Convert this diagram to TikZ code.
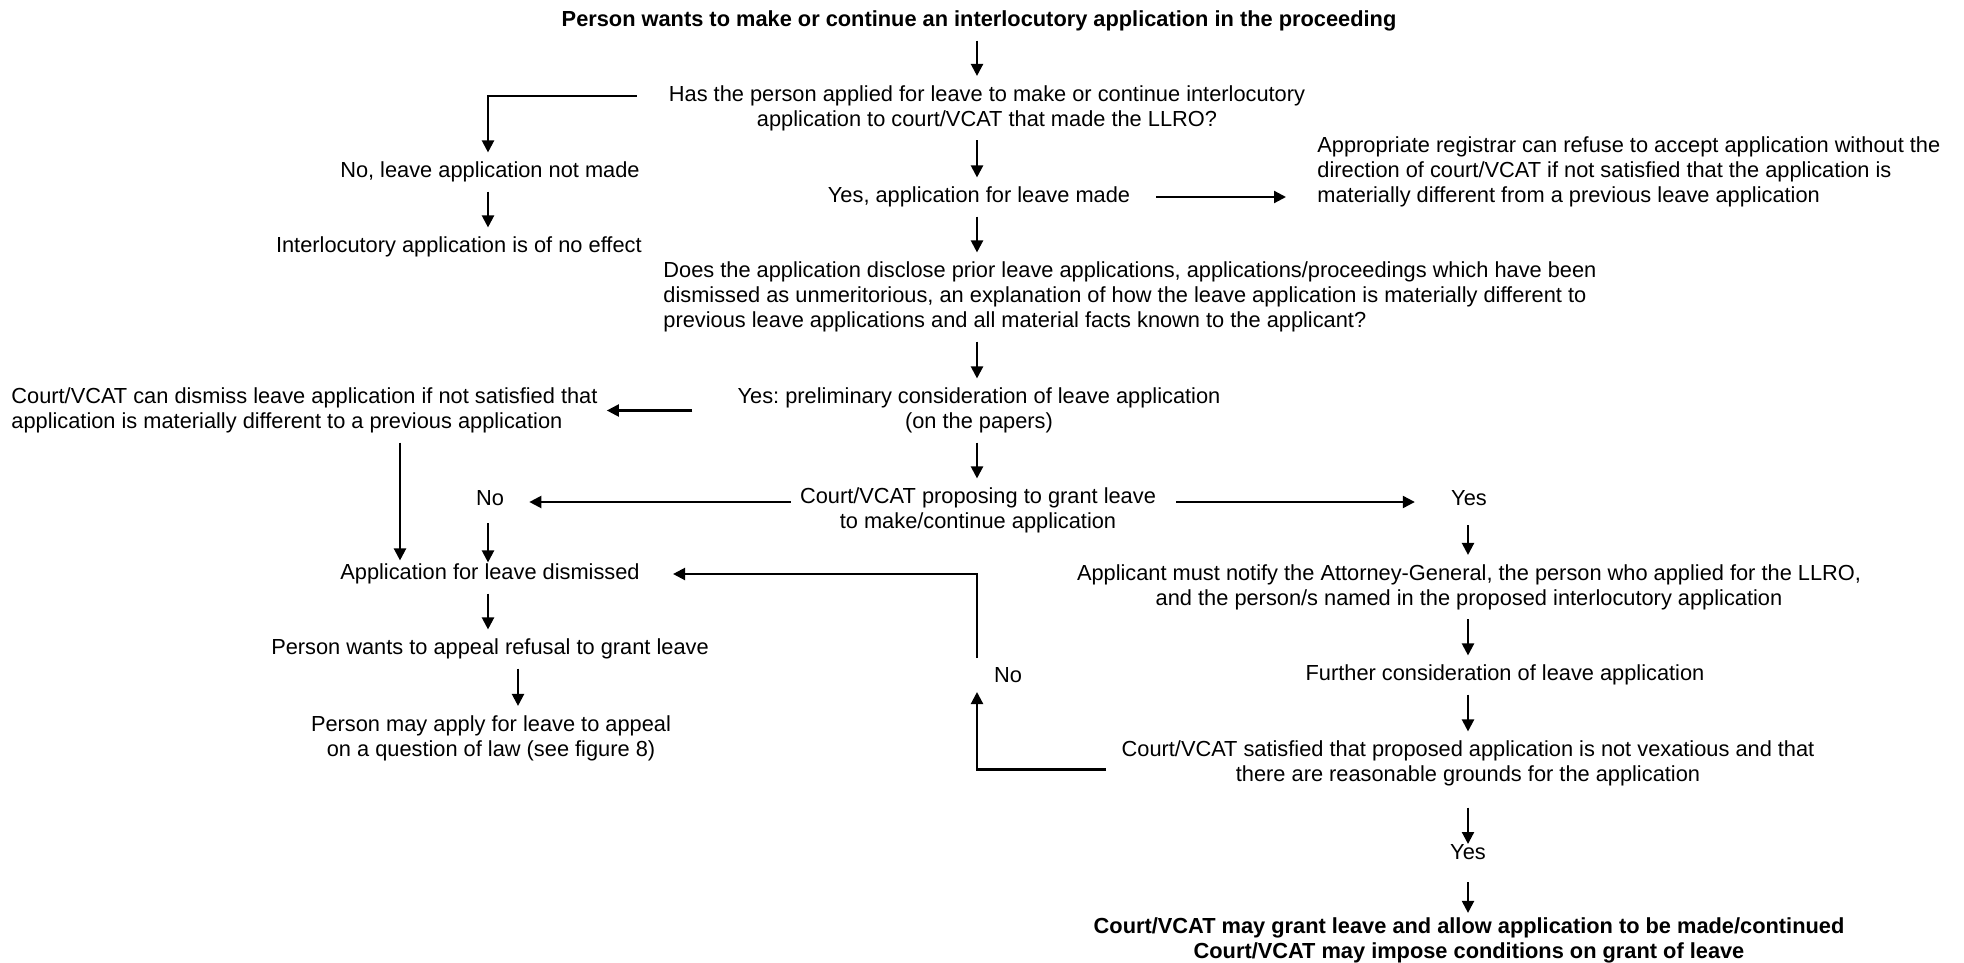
\documentclass[tikz,border=0pt]{standalone}
\usepackage{fontspec}
\setmainfont{Liberation Sans}
\usetikzlibrary{arrows.meta}
\frenchspacing

\begin{document}
\begin{tikzpicture}[
      x=0.5pt, y=-0.5pt,
      >={Triangle[length=6pt,width=6pt]},
      txt/.style={inner sep=4.5pt, font=\fontsize{10.9}{12.5}\selectfont},
      ctxt/.style={txt, align=center},
      ltxt/.style={txt, align=left, anchor=west},
      rtxt/.style={txt, align=right, anchor=east},
      btxt/.style={ctxt, font=\fontsize{10.9}{12.5}\selectfont\bfseries},
      flow/.style={->, line width=1.1pt},
    ]
    \useasboundingbox (0,0) rectangle (1964,963);

    % Columns
    \coordinate (cm) at (977,0);
    \coordinate (cl) at (488,0);
    \coordinate (cr) at (1468,0);
    \coordinate (cd) at (400,0);
    \coordinate (ca) at (518,0);

    % Nodes
    \node[btxt] (start) at (979,21) {Person wants to make or continue an interlocutory application in the proceeding};
    \node[ctxt] (q1) at (987,108) {Has the person applied for leave to make or continue interlocutory\\application to court/VCAT that made the LLRO?};
    \node[rtxt] (notmade) at (649,172) {No, leave application not made};
    \node[rtxt] (noeffect) at (651,247) {Interlocutory application is of no effect};
    \node[ctxt] (yesmade) at (979,197) {Yes, application for leave made};
    \node[ltxt] (registrar) at (1308,171.5) {Appropriate registrar can refuse to accept application without the\\direction of court/VCAT if not satisfied that the application is\\materially different from a previous leave application};
    \node[ltxt] (q2) at (654,297) {Does the application disclose prior leave applications, applications/proceedings which have been\\dismissed as unmeritorious, an explanation of how the leave application is materially different to\\previous leave applications and all material facts known to the applicant?};
    \node[ctxt] (prelim) at (979,410.5) {Yes: preliminary consideration of leave application\\(on the papers)};
    \node[ltxt] (dismiss) at (2,410.5) {Court/VCAT can dismiss leave application if not satisfied that\\application is materially different to a previous application};
    \node[ctxt] (propose) at (978,510.5) {Court/VCAT proposing to grant leave\\to make/continue application};
    \node[txt] (no1) at (490,498) {No};
    \node[txt] (yes1) at (1469,498) {Yes};
    \node[txt] (dismissed) at (490,574) {Application for leave dismissed};
    \node[ctxt] (notify) at (1469,587) {Applicant must notify the Attorney-General, the person who applied for the LLRO,\\and the person/s named in the proposed interlocutory application};
    \node[txt] (appeal) at (490,649) {Person wants to appeal refusal to grant leave};
    \node[ctxt] (mayapply) at (491,738) {Person may apply for leave to appeal\\on a question of law (see figure 8)};
    \node[txt] (no2) at (1008,675) {No};
    \node[txt] (further) at (1505,675) {Further consideration of leave application};
    \node[ctxt] (satisfied) at (1468,763.5) {Court/VCAT satisfied that proposed application is not vexatious and that\\there are reasonable grounds for the application};
    \node[txt, inner sep=0pt] (yes2) at (1468,852) {Yes};
    \node[btxt] (grant) at (1469,940) {Court/VCAT may grant leave and allow application to be made/continued\\Court/VCAT may impose conditions on grant of leave};

    % Arrows
    \draw[flow] (start.south -| cm) -- (q1.north -| cm);
    \draw[flow] ([xshift=-11.5pt,yshift=6pt]q1.west) -| (notmade.north -| cl);
    \draw[flow] (notmade.south -| cl) -- (noeffect.north -| cl);
    \draw[flow] (q1.south -| cm) -- (yesmade.north -| cm);
    \draw[flow, shorten <=8.5pt, shorten >=11pt] (yesmade.east) -- (yesmade.east -| registrar.west);
    \draw[flow] (yesmade.south -| cm) -- (q2.north -| cm);
    \draw[flow] (q2.south -| cm) -- (prelim.north -| cm);
    \draw[flow, shorten <=18pt] (prelim.west) -- (prelim.west -| dismiss.east);
    \draw[flow, shorten >=-3pt] (dismiss.south -| cd) -- (dismissed.north -| cd);
    \draw[flow] (prelim.south -| cm) -- (propose.north -| cm);
    \draw[flow, shorten >=8pt] ([yshift=-2pt]no1.east -| propose.west) -- ([yshift=-2pt]no1.east);
    \draw[flow, shorten <=5.5pt, shorten >=13.5pt] ([yshift=-2pt]yes1.west -| propose.east) -- ([yshift=-2pt]yes1.west);
    \draw[flow, shorten <=4pt, shorten >=-4pt] (no1.south -| cl) -- (dismissed.north -| cl);
    \draw[flow, shorten <=5pt] (yes1.south -| cr) -- (notify.north -| cr);
    \draw[flow] (notify.south -| cr) -- (further.north -| cr);
    \draw[flow] (further.south -| cr) -- (satisfied.north -| cr);
    \draw[flow] ([xshift=-3pt,yshift=-3pt]satisfied.west) -| (no2.south -| cm);
    \draw[flow, shorten >=12pt] (no2.north -| cm) |- (dismissed.east);
    \draw[flow, shorten <=6pt] (satisfied.south -| cr) -- (yes2.north);
    \draw[flow, shorten <=11pt, shorten >=-2.5pt] (yes2.south) -- (grant.north -| cr);
    \draw[flow] (dismissed.south -| cl) -- (appeal.north -| cl);
    \draw[flow] (appeal.south -| ca) -- (mayapply.north -| ca);
  \end{tikzpicture}
\end{document}
